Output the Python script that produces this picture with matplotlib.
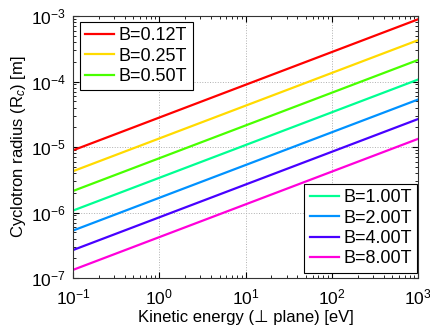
import matplotlib
matplotlib.use("Agg")
import matplotlib.pyplot as plt

plt.rcParams['font.family'] = ['Liberation Sans', 'DejaVu Sans']
plt.rcParams['mathtext.fontset'] = 'custom'
plt.rcParams['mathtext.rm'] = 'Liberation Sans'
plt.rcParams['mathtext.it'] = 'Liberation Sans:italic'
plt.rcParams['mathtext.bf'] = 'Liberation Sans:bold'

# Kinetic energy endpoints [eV] (lines are straight in log-log)
energy = [0.1, 1000]
labels = ['B=0.12T', 'B=0.25T', 'B=0.50T', 'B=1.00T', 'B=2.00T', 'B=4.00T', 'B=8.00T']
r_012 = [8.9e-6, 8.9e-4]
r_025 = [4.27e-6, 4.27e-4]
r_050 = [2.13e-6, 2.13e-4]
r_100 = [1.07e-6, 1.07e-4]
r_200 = [5.3e-7, 5.3e-5]
r_400 = [2.67e-7, 2.67e-5]
r_800 = [1.33e-7, 1.33e-5]
series = [r_012, r_025, r_050, r_100, r_200, r_400, r_800]
colors = ['#FF0000', '#FFDB00', '#49FF00', '#00FF92', '#0092FF', '#4900FF', '#FF00DB']

W, H = 431, 328
L, R, T, B = 73, 418, 16, 278
fig = plt.figure(figsize=(W / 100, H / 100), dpi=100)
ax = fig.add_axes([L / W, 1 - B / H, (R - L) / W, (B - T) / H])
lines = []
for y, c, lab in zip(series, colors, labels):
    ln, = ax.loglog(energy, y, color=c, lw=1.6, label=lab)
    lines.append(ln)

ax.set_xlim(0.1, 1000)
ax.set_ylim(1e-7, 1e-3)
ax.grid(True, which='major', linestyle=':', color='#b0b0b0', linewidth=0.7)
ax.tick_params(which='both', direction='in', top=True, right=True, labelsize=12.5)
ax.tick_params(which='major', length=4)
ax.tick_params(which='minor', length=2)
ax.tick_params(axis='x', which='major', pad=7)
ax.tick_params(axis='y', which='major', pad=5)
for s in ax.spines.values():
    s.set_linewidth(0.8)
    s.set_color('#333333')

ax.set_xlabel('Kinetic energy (\u22a5 plane) [eV]', fontsize=12, labelpad=2)
ax.set_ylabel('Cyclotron radius (R$_c$) [m]', fontsize=12, labelpad=2)

pw, ph = R - L, B - T
kw = dict(fontsize=13, fancybox=False, edgecolor='black', framealpha=1,
          borderpad=0.3, labelspacing=0.18, handlelength=1.6,
          handletextpad=0.25, borderaxespad=0)
leg1 = ax.legend(handles=lines[:3], loc='upper left',
                 bbox_to_anchor=((80 - L) / pw, 1 - (22 - T) / ph), **kw)
leg1.get_frame().set_linewidth(0.8)
ax.add_artist(leg1)
leg2 = ax.legend(handles=lines[3:], loc='lower right',
                 bbox_to_anchor=((417 - L) / pw, (B - 272.5) / ph), **kw)
leg2.get_frame().set_linewidth(0.8)

fig.savefig('out.png', dpi=100)
